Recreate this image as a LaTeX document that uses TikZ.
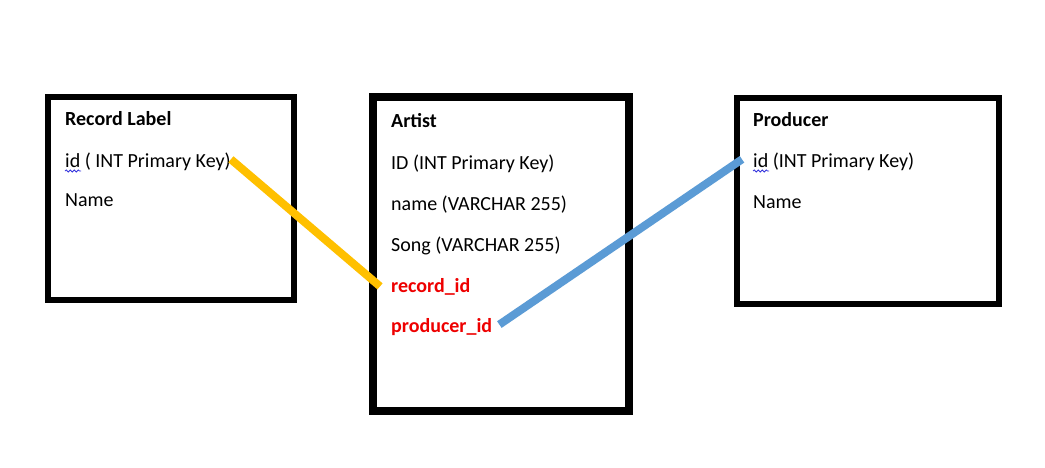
\documentclass[tikz,border=0pt]{standalone}
\usepackage{fontspec}
\setmainfont{Carlito}
\usetikzlibrary{decorations.pathmorphing}
\definecolor{linkyellow}{HTML}{FFC000}
\definecolor{linkblue}{HTML}{5B9BD5}
\definecolor{fkred}{HTML}{EE0000}
\definecolor{squig}{HTML}{3333DD}
\begin{document}
\begin{tikzpicture}[x=1pt,y=-1pt,
  tablebox/.style={draw=black,line width=6pt,fill=white},
  bigbox/.style={draw=black,line width=8pt,fill=white},
  field/.style={anchor=base west,inner sep=0pt,font=\fontsize{20}{24}\selectfont},
  title/.style={field,font=\fontsize{20}{24}\selectfont\bfseries},
  fk/.style={field,font=\fontsize{20}{24}\selectfont\bfseries,text=fkred},
  link/.style={line width=8pt},
  spell/.style={draw=squig,line width=0.8pt,decorate,decoration={snake,amplitude=1pt,segment length=4pt}}]
\useasboundingbox (0,0) rectangle (1045,467);
% boxes
\draw[tablebox] (48,97) rectangle (294,300);
\draw[bigbox] (373,97) rectangle (629,411);
\draw[tablebox] (737,98) rectangle (999,304);
% Record Label
\node[title] (rltitle) at (65,125) {Record Label};
\node[field] (rlid) at (65,167) {id ( INT Primary Key)};
\node[field] (rlname) at (65,206) {Name};
% Artist
\node[title] (atitle) at (391,127) {Artist};
\node[field] (aid) at (391,169) {ID (INT Primary Key)};
\node[field] (aname) at (391,210) {name (VARCHAR 255)};
\node[field] (asong) at (391,251) {Song (VARCHAR 255)};
\node[fk] (arec) at (391,292) {record\_id};
\node[fk] (aprod) at (391,332) {producer\_id};
% Producer
\node[title] (ptitle) at (753,126) {Producer};
\node[field] (pid) at (753,167) {id (INT Primary Key)};
\node[field] (pname) at (753,208) {Name};
% spelling marks
\draw[spell] ([yshift=-4pt]rlid.base west) -- ++(16,0);
\draw[spell] ([yshift=-4pt]pid.base west) -- ++(16,0);
% links
\draw[link,linkyellow] ([xshift=0pt,yshift=2pt]rlid.east) -- ([xshift=-11pt]arec.west);
\draw[link,linkblue] ([xshift=7pt,yshift=2pt]aprod.east) -- ([xshift=-11pt,yshift=2pt]pid.west);
\end{tikzpicture}
\end{document}
